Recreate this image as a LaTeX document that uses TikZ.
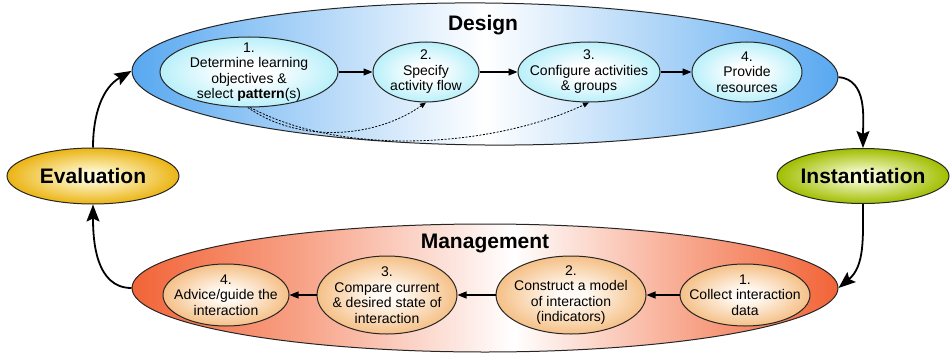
\documentclass[tikz,border=0pt]{standalone}
\usepackage{fontspec}
\setmainfont{Liberation Sans}
\usetikzlibrary{shapes.geometric,arrows.meta}
\definecolor{designblue}{RGB}{88,168,240}
\definecolor{mgmtorange}{RGB}{242,100,55}
\definecolor{dstepcyan}{RGB}{185,240,250}
\definecolor{mstepin}{RGB}{255,250,244}
\definecolor{mstepout}{RGB}{245,192,135}
\definecolor{instin}{RGB}{250,252,215}
\definecolor{instout}{RGB}{160,190,0}
\definecolor{evalin}{RGB}{255,252,220}
\definecolor{evalout}{RGB}{235,180,20}
\pgfdeclarehorizontalshading{designglow}{100bp}{color(0bp)=(designblue); color(25bp)=(designblue); color(36bp)=(designblue!55); color(50bp)=(white); color(64bp)=(designblue!55); color(75bp)=(designblue); color(100bp)=(designblue)}
\pgfdeclarehorizontalshading{mgmtglow}{100bp}{color(0bp)=(mgmtorange); color(25bp)=(mgmtorange); color(37bp)=(mgmtorange!60); color(52bp)=(white); color(65bp)=(mgmtorange!60); color(75bp)=(mgmtorange); color(100bp)=(mgmtorange)}
\pgfdeclareradialshading{dstepglow}{\pgfpoint{0bp}{0bp}}{color(0bp)=(white); color(6bp)=(white); color(25bp)=(dstepcyan); color(50bp)=(dstepcyan)}
\pgfdeclareradialshading{mstepglow}{\pgfpoint{0bp}{0bp}}{color(0bp)=(mstepin); color(5bp)=(mstepin); color(25bp)=(mstepout); color(50bp)=(mstepout)}
\pgfdeclareradialshading{instglow}{\pgfpoint{0bp}{0bp}}{color(0bp)=(instin); color(3bp)=(instin); color(25bp)=(instout); color(50bp)=(instout)}
\pgfdeclareradialshading{evalglow}{\pgfpoint{0bp}{0bp}}{color(0bp)=(evalin); color(3bp)=(evalin); color(25bp)=(evalout); color(50bp)=(evalout)}

\begin{document}
\begin{tikzpicture}[x=1pt,y=1pt,
  phase/.style={ellipse,draw=black!85,line width=1pt,inner sep=-5pt},
  substep/.style={ellipse,draw=black!85,line width=1pt,inner sep=-25pt,align=center,font=\fontsize{14}{15.5}\selectfont},
  dstep/.style={substep,shading=dstepglow},
  mstep/.style={substep,shading=mstepglow},
  title/.style={font=\bfseries\fontsize{21}{24}\selectfont},
  flow/.style={-{Triangle[length=9pt,width=7pt]},line width=1.1pt},
  cycle/.style={-{Stealth[length=17pt,width=13pt,inset=3pt]},line width=1.8pt},
  jump/.style={-{Triangle[length=6pt,width=5pt]},line width=.8pt,dash pattern=on 2pt off 1.5pt}]
\useasboundingbox (0,0) rectangle (952,-353);

\node[phase,minimum width=706pt,minimum height=142pt,rotate=-0.5,shading=designglow] (design) at (485,-74) {};
\node[phase,minimum width=706pt,minimum height=128pt,shading=mgmtglow] (mgmt) at (485,-288) {};
\node[title] (designlbl) at (483,-25) {Design};
\node[title] (mgmtlbl) at (485,-243) {Management};
\node[phase,title,minimum width=172pt,minimum height=55pt,shading=instglow] (inst) at (863,-176) {Instantiation};
\node[phase,title,minimum width=172pt,minimum height=56pt,shading=evalglow] (eval) at (93,-176) {Evaluation};

\node[dstep,minimum width=178pt,minimum height=70pt] (d1) at (249,-72) {1.\\Determine learning\\objectives \&\\select \textbf{pattern}(s)};
\node[dstep,minimum width=106pt,minimum height=60pt] (d2) at (426,-72) {2.\\Specify\\activity flow};
\node[dstep,minimum width=142pt,minimum height=60pt] (d3) at (589,-72) {3.\\Configure activities\\\& groups};
\node[dstep,minimum width=110pt,minimum height=60pt] (d4) at (747,-72) {4.\\Provide\\resources};

\node[mstep,minimum width=130pt,minimum height=62pt] (m1) at (745,-295) {1.\\Collect interaction\\data};
\node[mstep,minimum width=150pt,minimum height=78pt] (m2) at (571,-295) {2.\\Construct a model\\of interaction\\(indicators)};
\node[mstep,minimum width=140pt,minimum height=78pt] (m3) at (387,-295) {3.\\Compare current\\\& desired state of\\interaction};
\node[mstep,minimum width=126pt,minimum height=62pt] (m4) at (226,-295) {4.\\Advice/guide the\\interaction};

\draw[flow] (d1) -- (d2);
\draw[flow] (d2) -- (d3);
\draw[flow] (d3) -- (d4);
\draw[flow] (m1) -- (m2);
\draw[flow] (m2) -- (m3);
\draw[flow] (m3) -- (m4);
\draw[jump] (d1.-92) to[out=-35,in=-145,looseness=.9] (d2.south);
\draw[jump] (d1.-88) to[out=-28,in=-155,looseness=.8] (d3.south);

\draw[cycle] (design.east) to[out=-5,in=90] (inst.north);
\draw[cycle] (inst.south) to[out=-90,in=40] (mgmt.east);
\draw[cycle] (mgmt.west) to[out=180,in=-90] (eval.south);
\draw[cycle] (eval.north) to[out=90,in=210] (design.west);
\end{tikzpicture}
\end{document}
